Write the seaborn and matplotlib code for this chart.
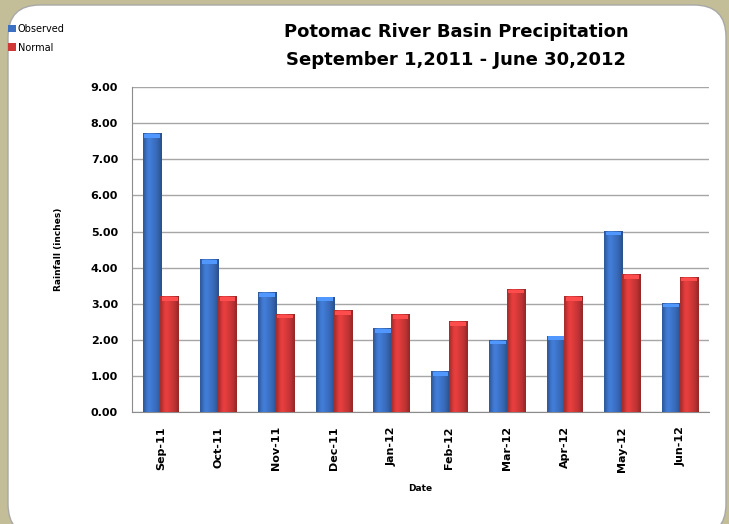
import pandas as pd
import numpy as np
import matplotlib.pyplot as plt
import seaborn as sns
from matplotlib.patches import FancyBboxPatch
from matplotlib.colors import to_rgb

months = ['Sep-11', 'Oct-11', 'Nov-11', 'Dec-11', 'Jan-12',
          'Feb-12', 'Mar-12', 'Apr-12', 'May-12', 'Jun-12']
observed = [7.72, 4.23, 3.32, 3.20, 2.32, 1.13, 2.00, 2.12, 5.02, 3.02]
normal = [3.21, 3.21, 2.72, 2.82, 2.71, 2.52, 3.41, 3.21, 3.82, 3.74]
series = ['Observed', 'Normal']
colors = ['#3b70c2', '#d03838']

df = pd.DataFrame({
    'Date': months * 2,
    'Rainfall': observed + normal,
    'Series': ['Observed'] * len(months) + ['Normal'] * len(months),
})

sns.set_style('white')
plt.rcParams['font.family'] = ['DejaVu Sans']
plt.rcParams['text.color'] = 'black'
plt.rcParams['xtick.color'] = 'black'
plt.rcParams['ytick.color'] = 'black'
plt.rcParams['axes.labelcolor'] = 'black'

fig = plt.figure(figsize=(7.29, 5.24), dpi=100)
fig.patch.set_facecolor('#c3be97')

# white rounded panel (pixel coords)
panel = FancyBboxPatch((8, -12), 718, 531, boxstyle='round,pad=0,rounding_size=32',
                       transform=None, facecolor='white', edgecolor='#a8a8a8',
                       linewidth=1.0, zorder=0)
fig.add_artist(panel)

ax = fig.add_axes([0.181, 0.2132, 0.7916, 0.6208])
ax.set_facecolor('none')

sns.barplot(data=df, x='Date', y='Rainfall', hue='Series', hue_order=series,
            palette=colors, width=0.62, gap=-0.04, saturation=1, ax=ax,
            edgecolor='none', legend=False, zorder=3)

ax.set_ylim(0, 9)
ax.set_xlim(-0.5, len(months) - 0.5)

# horizontal shading inside each bar for the glossy look
prof = np.array([0.80, 0.95, 1.10, 1.12, 1.08, 1.02, 0.98, 0.92, 0.85, 0.72])
for bar in list(ax.patches):
    base = np.array(to_rgb(bar.get_facecolor()))
    grad = np.clip(base[None, :] * prof[:, None], 0, 1)[None, :, :]
    x0, w, h = bar.get_x(), bar.get_width(), bar.get_height()
    im = ax.imshow(grad, extent=[x0, x0 + w, 0, h], aspect='auto',
                   interpolation='bicubic', zorder=4)
    im.set_clip_path(bar)
    # lighter cap at the top
    ax.fill_between([x0 + w * 0.08, x0 + w * 0.92], h - 0.12, h - 0.02,
                    color=tuple(np.clip(base * 1.35, 0, 1)), lw=0, zorder=5)

ax.set_xlim(-0.5, len(months) - 0.5)
ax.set_ylim(0, 9)
ax.set_yticks(np.arange(0, 9.01, 1))
ax.set_yticklabels([f'{v:.2f}' for v in np.arange(0, 9.01, 1)],
                   fontsize=8, fontweight='bold')
ax.grid(axis='y', color='#a6a6a6', linewidth=1, zorder=0)
ax.set_axisbelow(True)

ax.set_xticks(range(len(months)))
ax.set_xticklabels(months, rotation=90, fontsize=8, fontweight='bold')
ax.tick_params(axis='x', length=0, pad=10)
ax.set_xticks(np.arange(-0.5, len(months), 1), minor=True)
ax.tick_params(axis='x', which='minor', length=4, color='#8c8c8c', direction='out')
ax.tick_params(axis='y', length=0, pad=10)

for s in ['top', 'right']:
    ax.spines[s].set_visible(False)
ax.spines['left'].set_color('#8c8c8c')
ax.spines['bottom'].set_color('#8c8c8c')

ax.set_xlabel('Date', fontsize=6.5, fontweight='bold', labelpad=9)
ax.set_ylabel('Rainfall (inches)', fontsize=6.5, fontweight='bold', labelpad=20)

fig.text(0.626, 0.939, 'Potomac River Basin Precipitation', ha='center', va='center',
         fontsize=13, fontweight='bold')
fig.text(0.626, 0.885, 'September 1,2011 - June 30,2012', ha='center', va='center',
         fontsize=13, fontweight='bold')

handles = [plt.Rectangle((0, 0), 1, 1, facecolor=c, edgecolor='none') for c in colors]
fig.legend(handles, series, loc='upper left', bbox_to_anchor=(0.006, 0.962),
           frameon=False, fontsize=7, handlelength=0.8, handleheight=0.8,
           handletextpad=0.2, labelspacing=0.9, borderaxespad=0)

fig.savefig('out.png', dpi=100, facecolor=fig.get_facecolor())
